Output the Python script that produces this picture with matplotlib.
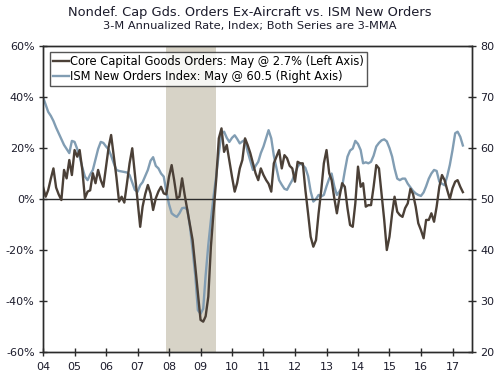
import matplotlib
matplotlib.use("Agg")
import matplotlib.pyplot as plt
import pandas as pd

# monthly, Jan 2004 - May 2017
start_month = "2004-01-01"

# Core capital goods orders, 3-M annualized rate (%), 3-MMA
core_orders = [
    4.8, 0.9, 3.5, 8.0, 12.0, 4.5, 1.8, -0.4, 11.4, 8.1, 15.3, 9.4,
    19.2, 16.6, 19.2, 11.4, 0.3, 2.9, 3.4, 10.1, 6.2, 11.4, 7.4, 4.8,
    12.7, 20.5, 25.1, 16.6, 8.7, -1.0, 0.9, -1.4, 6.2, 14.0, 19.9, 10.0,
    -0.4, -10.9, -3.0, 2.0, 5.5, 2.2, -4.3, 0.3, 3.0, 4.8, 2.2, 1.8,
    8.7, 13.3, 7.4, 0.3, 0.9, 8.1, 1.6, -4.3, -10.0, -16.1, -26.5, -37.0,
    -47.4, -48.1, -46.0, -38.3, -18.7, -5.0, 7.4, 23.8, 27.7, 18.5, 21.2, 15.0,
    8.7, 2.9, 6.2, 12.0, 15.3, 23.8, 21.2, 18.0, 14.0, 10.1, 7.4, 12.0,
    9.4, 7.4, 6.0, 2.9, 14.0, 16.6, 19.2, 12.0, 17.2, 16.0, 13.0, 12.0,
    6.8, 14.6, 14.0, 14.0, 3.5, -5.6, -14.8, -18.7, -16.1, -5.6, 3.5, 14.0,
    19.2, 10.1, 7.4, 0.3, -5.6, 0.9, 6.2, 4.8, -3.6, -10.2, -10.9, -1.7,
    12.7, 4.8, 6.2, -3.0, -2.4, -2.4, 4.8, 13.3, 12.0, 2.2, -8.2, -20.0,
    -14.8, -5.6, 0.9, -5.0, -6.3, -7.0, -3.6, -1.7, 4.0, 2.0, -3.0, -9.5,
    -12.2, -15.4, -8.2, -8.2, -5.6, -8.9, -3.0, 4.8, 9.4, 7.4, 3.5, 0.0,
    4.2, 6.8, 7.4, 4.8, 2.7,
]

# ISM new orders index, 3-MMA
ism_new_orders = [
    70.0, 68.5, 67.1, 66.3, 65.3, 64.0, 62.9, 61.8, 60.6, 59.8, 59.0, 61.4,
    61.2, 59.8, 58.3, 56.2, 54.4, 53.7, 54.8, 55.7, 57.8, 59.8, 61.2, 61.0,
    60.3, 59.7, 58.5, 57.0, 55.7, 55.5, 55.4, 55.3, 55.2, 54.7, 53.2, 51.8,
    51.4, 52.7, 53.3, 54.5, 55.7, 57.5, 58.2, 56.5, 56.0, 55.0, 54.4, 51.5,
    49.0, 47.2, 46.8, 46.5, 47.2, 48.2, 48.3, 47.9, 44.5, 40.0, 35.0, 28.2,
    27.5, 28.5, 35.0, 41.0, 45.9, 50.5, 54.4, 59.0, 62.9, 63.2, 62.0, 61.2,
    62.0, 62.5, 61.8, 60.9, 61.3, 61.6, 59.3, 57.5, 55.7, 56.5, 57.3, 59.0,
    60.3, 62.0, 63.5, 61.9, 58.5, 56.0, 53.7, 52.8, 52.0, 51.8, 52.8, 53.7,
    55.0, 56.3, 57.0, 56.6, 56.1, 54.5, 51.5, 49.5, 50.0, 50.8, 50.5, 50.8,
    52.5, 54.0, 55.0, 52.5, 50.8, 51.5, 52.4, 55.5, 58.3, 59.5, 59.9, 61.4,
    60.8, 59.6, 57.0, 57.2, 57.0, 57.3, 58.5, 60.3, 61.0, 61.5, 61.7, 61.3,
    60.0, 58.3, 56.0, 54.0, 53.7, 54.0, 54.0, 53.0, 52.3, 51.6, 51.1, 50.8,
    50.6, 51.3, 52.5, 54.0, 55.0, 55.7, 55.5, 53.4, 53.0, 52.7, 54.5, 56.7,
    59.6, 62.9, 63.2, 62.2, 60.5,
]

left_ticks = [-60, -40, -20, 0, 20, 40, 60]
right_ticks = [20, 30, 40, 50, 60, 70, 80]
years = list(range(2004, 2018))

dates = pd.date_range(start_month, periods=len(core_orders), freq="MS")

brown = "#4b4037"
blue = "#819db3"
shade = "#d7d3c7"
axis_col = "#2b2b2b"
text_col = "#1c1c2c"

fig = plt.figure(figsize=(5, 3.75), dpi=100)
ax = fig.add_axes([0.086, 0.0613, 0.858, 0.816])
ax2 = ax.twinx()

# recession
ax2.axvspan(pd.Timestamp("2007-12-01"), pd.Timestamp("2009-06-30"),
            color=shade, lw=0, zorder=0)

l2, = ax2.plot(dates, ism_new_orders, color=blue, lw=1.7,
               label="ISM New Orders Index: May @ 60.5 (Right Axis)")
ax.axhline(0, color=axis_col, lw=1.0, zorder=1)
l1, = ax.plot(dates, core_orders, color=brown, lw=1.7,
              label="Core Capital Goods Orders: May @ 2.7% (Left Axis)", zorder=2)

ax.set_zorder(ax2.get_zorder() + 1)
ax.patch.set_visible(False)

ax.set_ylim(-60, 60)
ax2.set_ylim(20, 80)
ax.set_xlim(pd.Timestamp("2004-01-01"), pd.Timestamp("2017-08-15"))

ax.set_yticks(left_ticks)
ax.set_yticklabels([f"{t}%" for t in left_ticks])
ax2.set_yticks(right_ticks)
ax2.set_yticklabels([str(t) for t in right_ticks])
ax.set_xticks([pd.Timestamp(f"{y}-01-01") for y in years])
ax.set_xticklabels([f"{y % 100:02d}" for y in years])

for a in (ax, ax2):
    for s in a.spines.values():
        s.set_color(axis_col)
        s.set_linewidth(1.0)
ax.tick_params(axis="both", direction="inout", length=6, width=1,
               color=axis_col, labelcolor=text_col, labelsize=8, pad=3)
ax.tick_params(axis="x", pad=4)
ax2.tick_params(axis="y", direction="inout", length=6, width=1,
                color=axis_col, labelcolor=text_col, labelsize=8, pad=3)

leg = ax.legend(handles=[l1, l2], loc="upper left",
                bbox_to_anchor=(0.016, 0.98), fontsize=8.3,
                frameon=True, fancybox=False, edgecolor=axis_col,
                handlelength=1.4, handletextpad=0.1, borderpad=0.25,
                labelspacing=0.2, borderaxespad=0)
leg.get_frame().set_linewidth(1.0)
leg.set_zorder(10)

fig.text(0.5, 0.967, "Nondef. Cap Gds. Orders Ex-Aircraft vs. ISM New Orders",
         ha="center", va="center", fontsize=9.4, color=text_col)
fig.text(0.5, 0.931, "3-M Annualized Rate, Index; Both Series are 3-MMA",
         ha="center", va="center", fontsize=8.2, color=text_col)

fig.savefig("out.png", dpi=100)
